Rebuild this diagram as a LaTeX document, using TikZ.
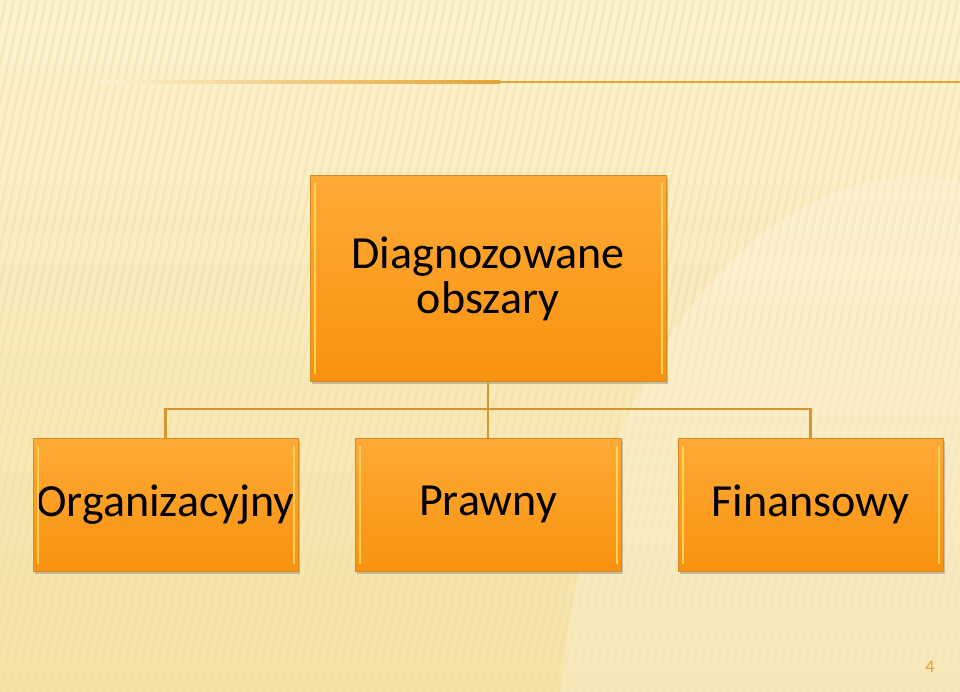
\documentclass[tikz,border=0pt]{standalone}
\usepackage{fontspec}
\setmainfont{Carlito}
\usetikzlibrary{shadows,calc}
\definecolor{bgtop}{HTML}{FDF3D2}
\definecolor{bgbot}{HTML}{F6E2A6}
\definecolor{boxtop}{HTML}{FFAA36}
\definecolor{boxbot}{HTML}{F8920F}
\definecolor{boxedge}{HTML}{D68A22}
\definecolor{bevel}{HTML}{FFD75A}
\definecolor{conn}{HTML}{D4962E}
\definecolor{rule}{HTML}{E6A233}
\definecolor{stripe}{HTML}{F3DFA2}
\tikzset{
  orgbox/.style={draw=boxedge, line width=1pt, top color=boxtop, bottom color=boxbot,
    minimum width=#1, inner sep=0pt, align=center, font=\fontsize{46}{45}\selectfont,
    drop shadow={shadow xshift=1.5pt, shadow yshift=-2.5pt, opacity=0.35, fill=black!60}},
  conline/.style={draw=conn, line width=2.2pt},
  bevelline/.style={draw=bevel, line width=2pt, opacity=0.9}
}
\begin{document}
\begin{tikzpicture}[x=1pt,y=-1pt]
\useasboundingbox (0,0) rectangle (960,692);
% background
\shade[top color=bgtop, bottom color=bgbot] (0,0) rectangle (960,692);
\begin{scope}
\clip (0,0) rectangle (960,692);
\foreach \i in {-20,...,120} {
  \draw[stripe, line width=2.2pt, opacity=0.55] (\i*8,692) -- (\i*8+150,0);
}
\fill[white, opacity=0.22] (560,692) .. controls (600,300) and (800,150) .. (960,180) -- (960,692) -- cycle;
\end{scope}
% top rule
\shade[left color=bgtop, right color=rule] (100,80.8) rectangle (500,83.2);
\fill[rule] (499,80.8) rectangle (960,83.2);
% boxes
\node[orgbox=356pt, minimum height=205pt] (top) at (488,278.5) {Diagnozowane\\obszary};
\node[orgbox=265pt, minimum height=133pt] (org) at (165.5,504.5) {Organizacyjny};
\node[orgbox=266pt, minimum height=133pt] (pra) at (488,504.5) {Prawny};
\node[orgbox=265pt, minimum height=133pt] (fin) at (810.5,504.5) {Finansowy};
% bevel highlights
\foreach \n in {top,org,pra,fin} {
  \draw[bevelline] ($(\n.north west)+(5,8)$) -- ($(\n.south west)+(5,-8)$);
  \draw[bevelline] ($(\n.north east)+(-5,8)$) -- ($(\n.south east)+(-5,-8)$);
}
% connectors
\coordinate (hub) at (488,409);
\draw[conline] (top.south) -- (hub);
\draw[conline] (org.north) |- (hub) -| (fin.north);
\draw[conline] (hub) -- (pra.north);
% page number
\node[text=rule, font=\fontsize{18}{18}\selectfont] (pg) at (930,667) {4};
\end{tikzpicture}
\end{document}
